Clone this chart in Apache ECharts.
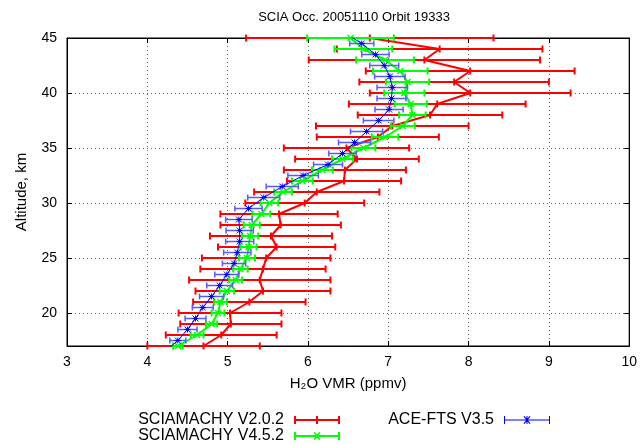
<!DOCTYPE html>
<html>
<head>
<meta charset="utf-8">
<script src="https://cdn.jsdelivr.net/npm/echarts@6/dist/echarts.min.js"></script>
<style>html,body{margin:0;padding:0;background:#fff}#c{width:640px;height:444px}</style>
</head>
<body>
<div id="c"></div>
<script>
// SCIAMACHY V2.0.2 (red)
const altSciaOld = [45,44,43,42,41,40,39,38,37,36,35,34,33,32,31,30,29,28,27,26,25,24,23,22,21,20,19,18,17];
const vmrSciaOld = [6.77,7.64,7.45,8.02,7.82,8.02,7.61,7.52,7.05,6.87,6.48,6.61,6.46,6.45,6.11,5.96,5.64,5.66,5.54,5.61,5.48,5.44,5.40,5.44,5.27,5.03,5.04,4.92,4.70];
const errSciaOld = [1.54,1.28,1.44,1.30,1.18,1.25,1.10,0.90,0.95,0.76,0.78,0.77,0.76,0.71,0.78,0.74,0.73,0.75,0.76,0.73,0.80,0.78,0.88,0.84,0.70,0.64,0.63,0.69,0.70];
// SCIAMACHY V4.5.2 (green)
const altSciaNew = [45,44,43,42,41,40,39,38,37,36,35,34,33,32,31,30,29,28,27,26,25,24,23,22,21,20,19,18,17];
const vmrSciaNew = [6.53,6.69,6.96,7.15,7.24,7.20,7.28,7.30,7.18,6.96,6.69,6.43,6.18,5.93,5.69,5.52,5.42,5.30,5.28,5.26,5.24,5.16,5.10,4.99,4.91,4.88,4.80,4.62,4.38];
const errSciaNew = [0.54,0.36,0.36,0.34,0.27,0.25,0.20,0.165,0.15,0.165,0.15,0.13,0.13,0.13,0.11,0.11,0.11,0.10,0.10,0.10,0.10,0.09,0.08,0.09,0.08,0.08,0.07,0.08,0.06];
// ACE-FTS V3.5 (blue)
const altAce = [45.5,44.5,43.5,42.5,41.5,40.5,39.5,38.5,37.5,36.5,35.5,34.5,33.5,32.5,31.5,30.5,29.5,28.5,27.5,26.5,25.5,24.5,23.5,22.5,21.5,20.5,19.5,18.5,17.5,16.5];
const vmrAce = [6.45,6.67,6.84,6.95,7.02,7.05,7.04,7.01,6.88,6.73,6.58,6.43,6.25,5.94,5.68,5.45,5.26,5.14,5.15,5.15,5.12,5.08,4.99,4.90,4.80,4.69,4.60,4.50,4.38,4.22];
const errAce = [0.15,0.15,0.17,0.18,0.19,0.19,0.18,0.175,0.19,0.2,0.2,0.17,0.18,0.19,0.2,0.2,0.17,0.165,0.17,0.175,0.17,0.145,0.15,0.16,0.15,0.13,0.13,0.12,0.10,0.10];

const xTicks = [3,4,5,6,7,8,9,10];
const names = ['SCIAMACHY V2.0.2','SCIAMACHY V4.5.2','ACE-FTS V3.5'];

const FONT = 'Liberation Sans, Arial, sans-serif';
const RED = '#ff0000', GREEN = '#00ff00', BLUE = '#0000ff';

function pairs(v, a){ return v.map((x,i)=>[x, a[i]]); }
function triples(v, e, a){ return v.map((x,i)=>[x, e[i], a[i]]); }

function marker(kind, cx, cy, s, style){
  const els = [];
  const L = (x1,y1,x2,y2)=>els.push({type:'line', shape:{x1,y1,x2,y2}, style});
  if (kind==='plus' || kind==='star'){ L(cx-s,cy,cx+s,cy); L(cx,cy-s,cx,cy+s); }
  if (kind==='cross' || kind==='star'){ L(cx-s,cy-s,cx+s,cy+s); L(cx-s,cy+s,cx+s,cy-s); }
  return els;
}

function errRender(color, lw, cap, kind, msize, mlw, mcolor){
  return function(params, api){
    const x = api.value(0), e = api.value(1), y = api.value(2);
    const c = api.coord([x, y]);
    const l = api.coord([x - e, y]);
    const r = api.coord([x + e, y]);
    const cs = params.coordSys;
    if (c[1] < cs.y - 1 || c[1] > cs.y + cs.height + 1) return null;
    const st = {stroke: color, lineWidth: lw};
    const children = [
      {type:'line', shape:{x1:l[0], y1:c[1], x2:r[0], y2:c[1]}, style: st},
      {type:'line', shape:{x1:l[0], y1:c[1]-cap, x2:l[0], y2:c[1]+cap}, style: st},
      {type:'line', shape:{x1:r[0], y1:c[1]-cap, x2:r[0], y2:c[1]+cap}, style: st}
    ].concat(marker(kind, c[0], c[1], msize, {stroke: mcolor, lineWidth: mlw}));
    return {type:'group', children};
  };
}

// legend icon paths (46 x 8)
const iconRed = 'path://M0,3L46,3L46,5L0,5ZM0,0L2,0L2,8L0,8ZM44,0L46,0L46,8L44,8ZM22,0L24,0L24,8L22,8Z';
const iconGreen = 'path://M0,3L46,3L46,5L0,5ZM0,0L2,0L2,8L0,8ZM44,0L46,0L46,8L44,8ZM19.5,0.5L21,0L26.5,7.5L25,8ZM25,0L26.5,0.5L21,8L19.5,7.5Z';
const iconBlue = 'path://M0,3.5L46,3.5L46,4.5L0,4.5ZM0,0L1,0L1,8L0,8ZM45,0L46,0L46,8L45,8ZM22.5,0L23.5,0L23.5,8L22.5,8ZM19.5,0.5L20.5,0L26.5,7.5L25.5,8ZM25.5,0L26.5,0.5L20.5,8L19.5,7.5Z';

function legendAt(name, icon, right, top){
  return {
    data: [{name, icon}], orient: 'horizontal', align: 'right', right, top,
    itemWidth: 46, itemHeight: 8, itemGap: 0, padding: 0,
    textStyle: {fontFamily: FONT, fontSize: 16, color: '#000', padding: [0, 5, 0, 0]}
  };
}

const chart = echarts.init(document.getElementById('c'), null, {renderer:'canvas'});
const gridLine = {show:true, lineStyle:{color:'#666', type:[1,3], width:1}};
const option = {
  animation: false,
  backgroundColor: '#fff',
  title: {
    text: 'SCIA Occ. 20051110 Orbit 19333',
    left: 349, top: 6, textAlign: 'center',
    textStyle: {fontFamily: FONT, fontSize: 13, fontWeight: 'normal', color: '#000'}
  },
  grid: {left: 67, right: 9, top: 38, bottom: 98, show: true, borderColor: '#000', borderWidth: 1},
  xAxis: [{
    type: 'value', min: 3, max: 10, interval: 1, position: 'bottom',
    name: 'H₂O VMR (ppmv)', nameLocation: 'middle', nameGap: 30,
    nameTextStyle: {fontFamily: FONT, fontSize: 15, color: '#000'},
    axisLine: {show: true, onZero: false, lineStyle: {color: '#000', width: 1}},
    axisTick: {show: true, inside: true, length: 5, lineStyle: {color: '#000'}},
    axisLabel: {fontFamily: FONT, fontSize: 14, color: '#000', margin: 9},
    splitLine: gridLine
  },{
    type: 'value', min: 3, max: 10, interval: 1, position: 'top',
    axisLine: {show: true, onZero: false, lineStyle: {color: '#000', width: 1}},
    axisTick: {show: true, inside: true, length: 5, lineStyle: {color: '#000'}},
    axisLabel: {show: false}, splitLine: {show: false}
  }],
  yAxis: [{
    type: 'value', min: 17, max: 45, splitNumber: 5, position: 'left',
    name: 'Altitude, km', nameLocation: 'middle', nameGap: 38, nameRotate: 90,
    nameTextStyle: {fontFamily: FONT, fontSize: 15, color: '#000'},
    axisLine: {show: true, onZero: false, lineStyle: {color: '#000', width: 1}},
    axisTick: {show: true, inside: true, length: 5, lineStyle: {color: '#000'}},
    axisLabel: {fontFamily: FONT, fontSize: 14, color: '#000', margin: 10, showMinLabel: false},
    splitLine: gridLine
  },{
    type: 'value', min: 17, max: 45, splitNumber: 5, position: 'right',
    axisLine: {show: true, onZero: false, lineStyle: {color: '#000', width: 1}},
    axisTick: {show: true, inside: true, length: 5, lineStyle: {color: '#000'}},
    axisLabel: {show: false}, splitLine: {show: false}
  }],
  legend: [
    legendAt(names[0], iconRed, 300, 412),
    legendAt(names[1], iconGreen, 300, 428),
    legendAt(names[2], iconBlue, 90, 412)
  ],
  series: [
    {name: names[0], type: 'custom', data: triples(vmrSciaOld, errSciaOld, altSciaOld),
     encode: {x: 0, y: 2}, itemStyle: {color: RED},
     renderItem: errRender(RED, 2, 3.5, 'plus', 3.5, 2, RED), z: 2},
    {name: names[0], type: 'line', data: pairs(vmrSciaOld, altSciaOld), showSymbol: false,
     lineStyle: {color: RED, width: 2}, itemStyle: {color: RED}, z: 2},
    {name: names[1], type: 'custom', data: triples(vmrSciaNew, errSciaNew, altSciaNew),
     encode: {x: 0, y: 2}, itemStyle: {color: GREEN},
     renderItem: errRender(GREEN, 2, 3.5, 'cross', 3, 1.5, GREEN), z: 3},
    {name: names[1], type: 'line', data: pairs(vmrSciaNew, altSciaNew), showSymbol: false,
     lineStyle: {color: GREEN, width: 2}, itemStyle: {color: GREEN}, z: 3},
    {name: names[2], type: 'custom', data: triples(vmrAce, errAce, altAce),
     encode: {x: 0, y: 2}, itemStyle: {color: BLUE},
     renderItem: errRender('#5a5aff', 1.5, 3, 'star', 3, 1, BLUE), z: 4},
    {name: names[2], type: 'line', data: pairs(vmrAce, altAce), showSymbol: false,
     lineStyle: {color: BLUE, width: 1}, itemStyle: {color: BLUE}, z: 4}
  ]
};
chart.setOption(option);
</script>
</body>
</html>
